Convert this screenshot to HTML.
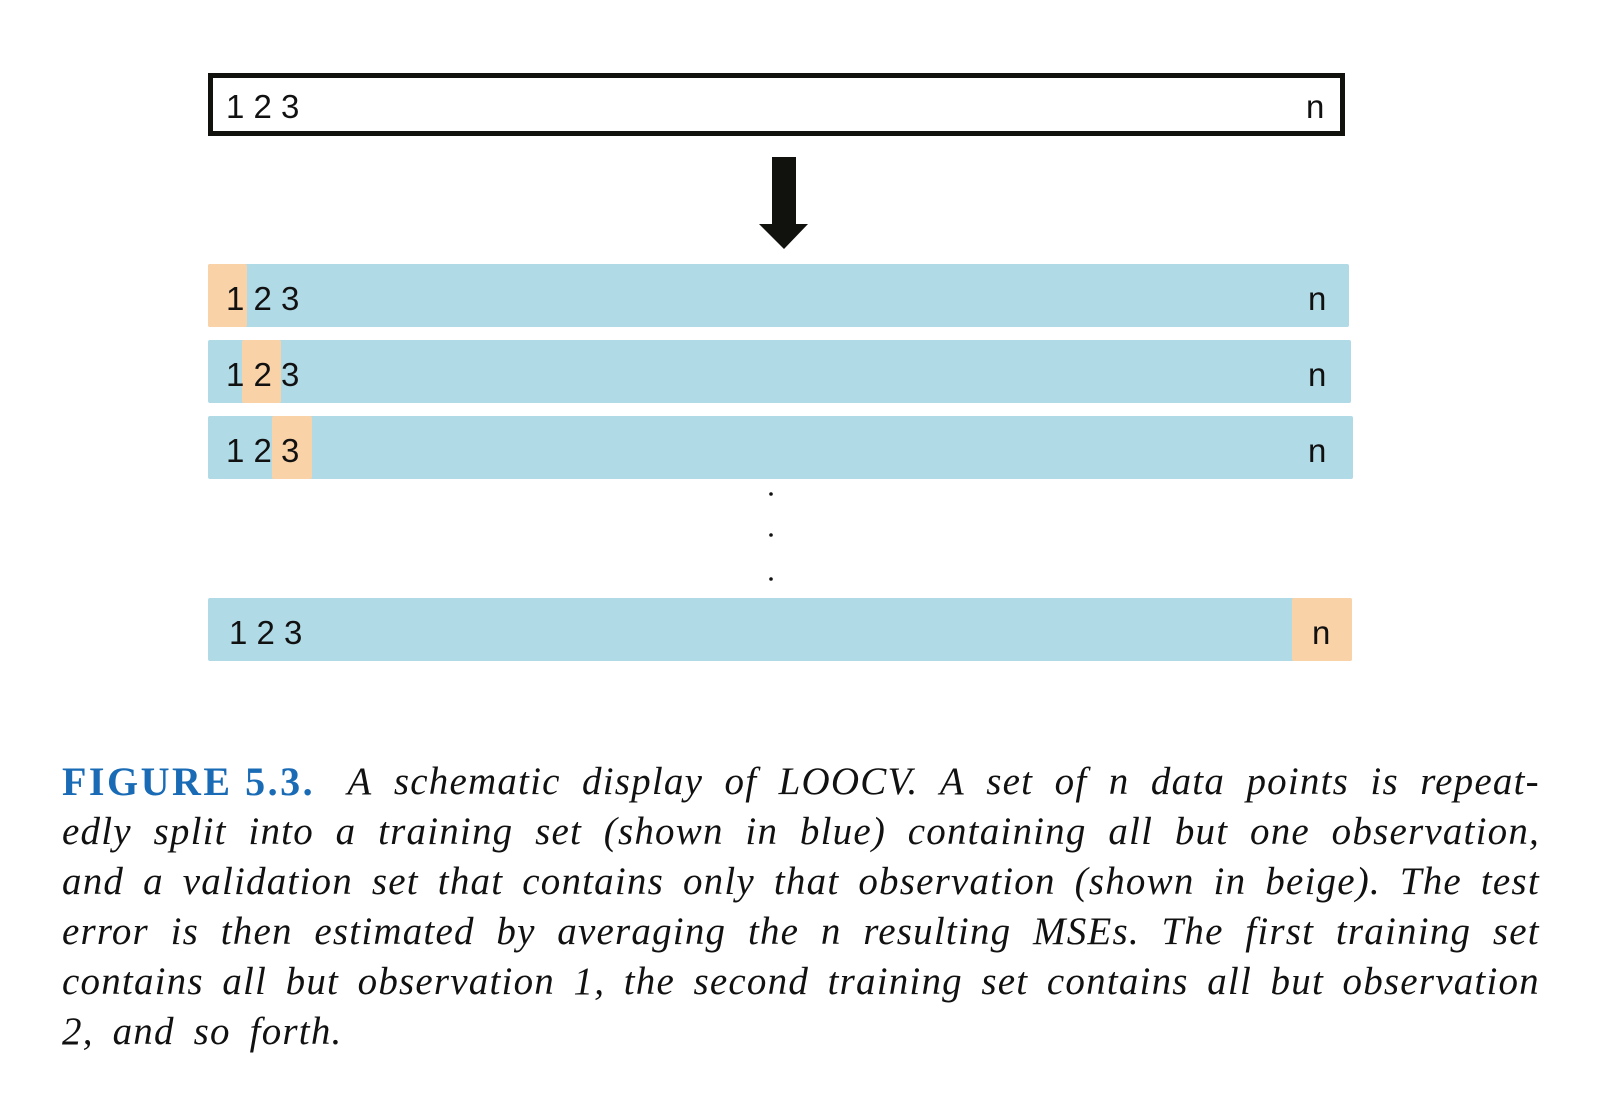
<!DOCTYPE html>
<html><head><meta charset="utf-8"><style>
body{margin:0;background:#fff;width:1606px;height:1098px;overflow:hidden;position:relative}
svg{position:absolute;left:0;top:0}
.cap{position:absolute;left:62px;width:1478px;font-family:"Liberation Serif",serif;font-style:italic;font-size:39px;letter-spacing:1.2px;color:#111;white-space:nowrap;line-height:50px;height:50px;display:flex;justify-content:space-between}
.fig{font-style:normal;font-weight:bold;color:#1a6bb5;letter-spacing:2.5px;font-size:40px}
</style></head><body>
<svg width="1606" height="1098" font-family="Liberation Sans, sans-serif" font-size="33">
<rect x="210.5" y="75.5" width="1132" height="58" fill="#fff" stroke="#11110d" stroke-width="5"/>
<text x="226" y="118" fill="#111">1 2 3</text>
<text x="1306" y="118" fill="#111">n</text>
<polygon points="772,157 796,157 796,224 808,224 784,249 759,224 772,224" fill="#11110d"/>
<g id="rows"></g>
<circle cx="771" cy="494" r="1.8" fill="#111"/>
<circle cx="771" cy="535" r="1.8" fill="#111"/>
<circle cx="771" cy="579" r="1.8" fill="#111"/>
</svg>
<div class="cap" style="top:757px"><span class="fig">FIGURE 5.3.</span><span>&nbsp;A</span><span>schematic</span><span>display</span><span>of</span><span>LOOCV.</span><span>A</span><span>set</span><span>of</span><span>n</span><span>data</span><span>points</span><span>is</span><span>repeat-</span></div>
<div class="cap" style="top:807px"><span>edly</span><span>split</span><span>into</span><span>a</span><span>training</span><span>set</span><span>(shown</span><span>in</span><span>blue)</span><span>containing</span><span>all</span><span>but</span><span>one</span><span>observation,</span></div>
<div class="cap" style="top:857px"><span>and</span><span>a</span><span>validation</span><span>set</span><span>that</span><span>contains</span><span>only</span><span>that</span><span>observation</span><span>(shown</span><span>in</span><span>beige).</span><span>The</span><span>test</span></div>
<div class="cap" style="top:907px"><span>error</span><span>is</span><span>then</span><span>estimated</span><span>by</span><span>averaging</span><span>the</span><span>n</span><span>resulting</span><span>MSEs.</span><span>The</span><span>first</span><span>training</span><span>set</span></div>
<div class="cap" style="top:957px"><span>contains</span><span>all</span><span>but</span><span>observation</span><span>1,</span><span>the</span><span>second</span><span>training</span><span>set</span><span>contains</span><span>all</span><span>but</span><span>observation</span></div>
<div class="cap" style="top:1007px;width:auto;display:block;word-spacing:8px">2, and so forth.</div>
<script>
const rowTops=[264,340,416,598];
const rowRights=[1349,1351,1353,1352];
const holdStart=[208,242,272,1292];
const holdEnd=[247,281,312,1352];
const g=document.getElementById('rows');
const NS='http://www.w3.org/2000/svg';
for(let i=0;i<rowTops.length;i++){
  const y=rowTops[i];
  const r=document.createElementNS(NS,'rect');
  r.setAttribute('x',208);r.setAttribute('y',y);r.setAttribute('width',rowRights[i]-208);r.setAttribute('height',63);r.setAttribute('rx',2);r.setAttribute('fill','#b1dae7');
  
  
  g.appendChild(r);
  const o=document.createElementNS(NS,'rect');
  o.setAttribute('x',holdStart[i]);o.setAttribute('y',y);o.setAttribute('width',holdEnd[i]-holdStart[i]);o.setAttribute('height',63);o.setAttribute('rx',2);o.setAttribute('fill','#fad2a8');
  
  
  g.appendChild(o);
  const t=document.createElementNS(NS,'text');
  t.setAttribute('x',i===3?229:226);t.setAttribute('y',y+46);t.setAttribute('fill','#111');t.textContent='1 2 3';
  
  
  g.appendChild(t);
  const n=document.createElementNS(NS,'text');
  n.setAttribute('x',i===3?1312:1308);n.setAttribute('y',y+46);n.setAttribute('fill','#111');n.textContent='n';
  
  
  g.appendChild(n);
}
</script>
</body></html>
